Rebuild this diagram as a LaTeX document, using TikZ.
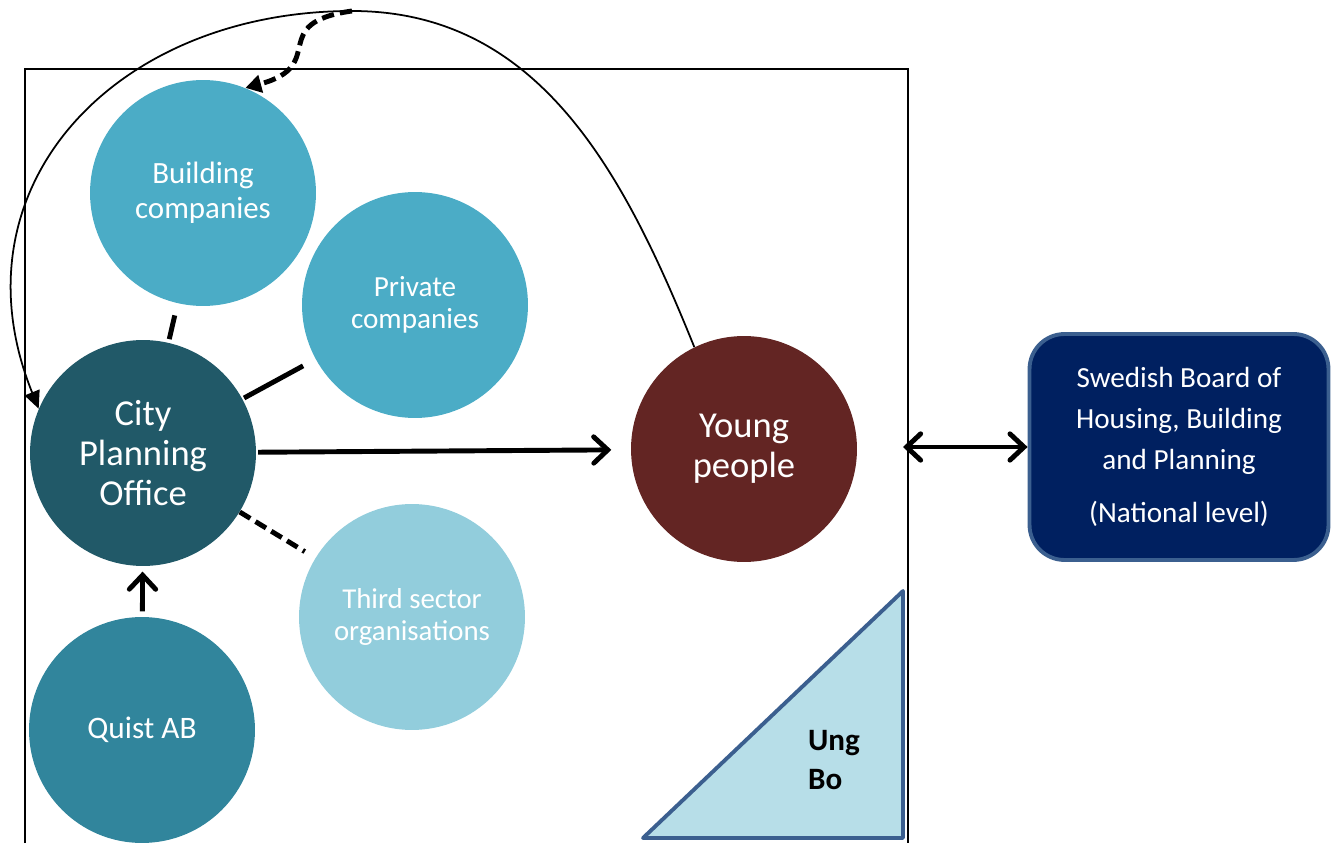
\documentclass[tikz,border=0pt]{standalone}
\usepackage{fontspec}
\setmainfont{Carlito}
\usepackage{xcolor}
\usepackage{tikz}
\usetikzlibrary{shapes, arrows.meta, positioning}
\usetikzlibrary{calc}

\definecolor{midblue}{HTML}{4BACC6}
\definecolor{paleblue}{HTML}{92CDDC}
\definecolor{darkteal}{HTML}{215968}
\definecolor{teal}{HTML}{31859C}
\definecolor{maroon}{HTML}{632523}
\definecolor{navy}{HTML}{002060}
\definecolor{steel}{HTML}{3B5F8F}
\definecolor{iceblue}{HTML}{B7DEE8}

\begin{document}
\begin{tikzpicture}
  [
    x=0.02cm, y=-0.02cm,
    Actor/.style={circle, text=white, minimum size=4.52cm, inner sep=0pt, align=center},
    Mid/.style={Actor, fill=midblue, font=\fontsize{17.6}{20}\selectfont},
    Pale/.style={Actor, fill=paleblue, font=\fontsize{16.4}{18.4}\selectfont},
    Dark/.style={Actor, fill=darkteal, font=\fontsize{20.8}{23}\selectfont},
    Quist/.style={Actor, fill=teal, font=\fontsize{17.8}{20}\selectfont},
    Young/.style={Actor, fill=maroon, font=\fontsize{20.8}{22.8}\selectfont},
    Board/.style={rectangle, rounded corners=0.7cm, draw=steel, line width=2.2pt, fill=navy, text=white,
      minimum width=5.98cm, minimum height=4.52cm, align=center, font=\fontsize{16.6}{23.2}\selectfont},
    Link/.style={line width=2.8pt},
    Dash/.style={line width=2.8pt, dash pattern=on 7pt off 3.5pt},
    Flow/.style={line width=2.8pt, -{Straight Barb[length=8pt, width=15pt, line cap=round]}}
  ]
  % Frame
  \draw[line width=0.8pt] (25,843) -- (25,69) -- (908,69) -- (908,843);
  \useasboundingbox (0,0) rectangle (1338,843);

  % Nodes
  \node[Mid] (bc) at(203, 193) {Building\\companies};
  \node[Mid, font=\fontsize{16.6}{18.4}\selectfont] (pc) at(415, 305) {Private\\companies};
  \node[Dark] (cpo) at(143, 453) {City\\Planning\\Office};
  \node[Pale] (tso) at(412, 617) {Third sector\\organisations};
  \node[Quist] (qab) at(142, 730) {Quist AB};
  \node[Young] (yp) at(744, 449) {Young\\people};
  \node[Board] (sb) at(1179, 447) {Swedish Board of\\Housing, Building\\and Planning\\[0.25cm](National level)};

  % Ung Bo
  \draw[draw=steel, line width=2.2pt, fill=iceblue, line join=round] (643,838) -- (903,591) -- (903,838) -- cycle;
  \node[align=left, font=\fontsize{17.7}{22}\selectfont\bfseries] (ub) at(834, 760) {Ung\\Bo};

  \coordinate (top) at(352, 11);
  \coordinate (fr) at(903, 447);

  % Lines
  \draw[Link, shorten <=7pt, shorten >=2pt] (bc) -- (cpo);
  \draw[Link, shorten <=1pt, shorten >=8pt] (cpo) -- (pc);
  \draw[Dash, shorten >=7pt] (cpo) -- (tso);
  \draw[Flow, shorten <=1pt, shorten >=11pt] (cpo) -- (yp);
  \draw[Flow, shorten <=3pt, shorten >=3pt] (qab) -- (cpo);
  \draw[line width=2.8pt, {Straight Barb[length=8pt, width=15pt, line cap=round]}-{Straight Barb[length=8pt, width=15pt, line cap=round]}] (fr) -- (sb);
  \path [-{Triangle[length=10pt, width=9pt]}, draw, line width=1pt] (yp.116) to[out=112,in=0] (top) to[out=180,in=112,looseness=1.2] (cpo.157);
  \path [-{Triangle[length=9pt, width=10pt]}, draw, Dash] (top) to[out=188,in=15,looseness=1.7] (bc.68);

\end{tikzpicture}
\end{document}
